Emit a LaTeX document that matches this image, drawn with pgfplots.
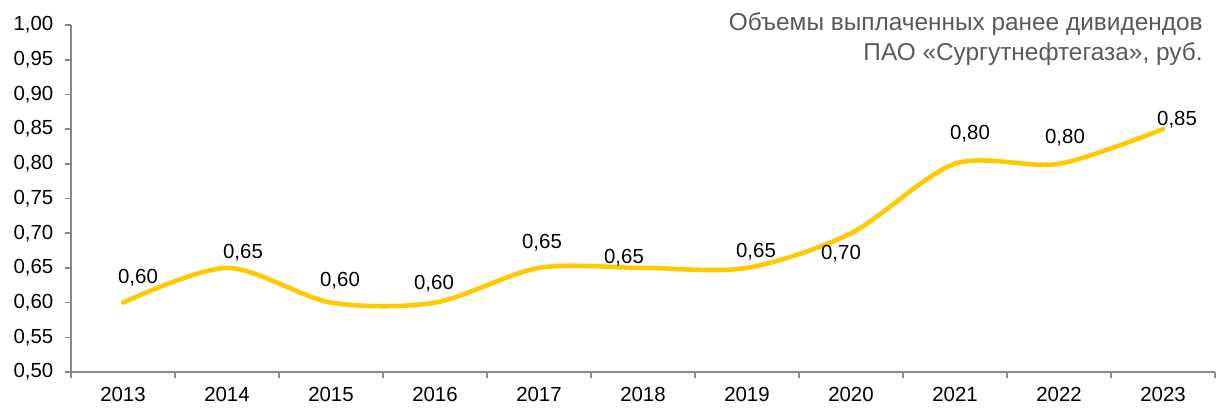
\documentclass[border=0pt]{standalone}
\usepackage{pgfplots}
\pgfplotsset{compat=1.18}
\usepackage{pgfplotstable}
\usepackage{fontspec}
\setmainfont{Liberation Sans}
\definecolor{lineyellow}{HTML}{FFCA00}
\definecolor{axisgray}{HTML}{898989}
\definecolor{titlegray}{HTML}{595959}
\pgfplotstableread{
x y dx dy
0 0.60 7.5 12.5
1 0.65 8 7.5
2 0.60 4.5 11
3 0.60 -0.5 9.5
4 0.65 1.5 12.5
5 0.65 -9.5 5
6 0.65 4.5 8
7 0.70 -5 -10
8 0.80 7.5 15
9 0.80 3 13
10 0.85 7 4.5
}\divdata
\begin{document}
\begin{tikzpicture}
\begin{axis}[
  scale only axis,
  width=572pt, height=173.5pt,
  xmin=-0.5, xmax=10.5,
  ymin=0.5, ymax=1.0,
  axis x line=bottom, axis y line=left,
  axis line style={-, draw=axisgray, line width=0.8pt},
  tick style={draw=axisgray, line width=0.8pt},
  tick align=outside,
  major tick length=3pt,
  xtick={-0.5,0.5,...,10.5},
  x tick label as interval,
  xticklabels={2013,2014,2015,2016,2017,2018,2019,2020,2021,2022,2023},
  ytick={0.5,0.55,0.6,0.65,0.7,0.75,0.8,0.85,0.9,0.95,1.0},
  /pgf/number format/assume math mode=true,
  yticklabel={\pgfmathprintnumber[fixed,zerofill,precision=2,use comma]{\tick}},
  tick label style={font=\fontsize{10.2pt}{12pt}\selectfont, black},
  yticklabel style={xshift=-2.3pt},
  xticklabel style={yshift=-1pt},
  clip=false,
]
\addplot[lineyellow, line width=2.3pt, smooth, tension=0.5,
  line cap=round,
  visualization depends on={\thisrow{dx}\as\dx},
  visualization depends on={\thisrow{dy}\as\dy},
  nodes near coords={\pgfmathprintnumber[fixed,zerofill,precision=2,use comma,assume math mode=true]{\pgfplotspointmeta}},
  every node near coord/.append style={anchor=center, xshift=\dx, yshift=\dy, black, font=\fontsize{10.2pt}{12pt}\selectfont, inner sep=0pt},
] table[x=x, y=y] {\divdata};
\node[anchor=north east, align=right, text=titlegray, inner sep=0pt,
  font=\fontsize{12.2pt}{15pt}\selectfont]
  at ([xshift=-6pt, yshift=6.5pt]rel axis cs:1,1)
  {Объемы выплаченных ранее дивидендов\\ПАО «Сургутнефтегаза», руб.};
\pgfresetboundingbox
\path[use as bounding box] ([xshift=-35.5pt, yshift=-17pt]rel axis cs:0,0) rectangle ([xshift=0.5pt, yshift=12.5pt]rel axis cs:1,1);
\end{axis}
\end{tikzpicture}
\end{document}
